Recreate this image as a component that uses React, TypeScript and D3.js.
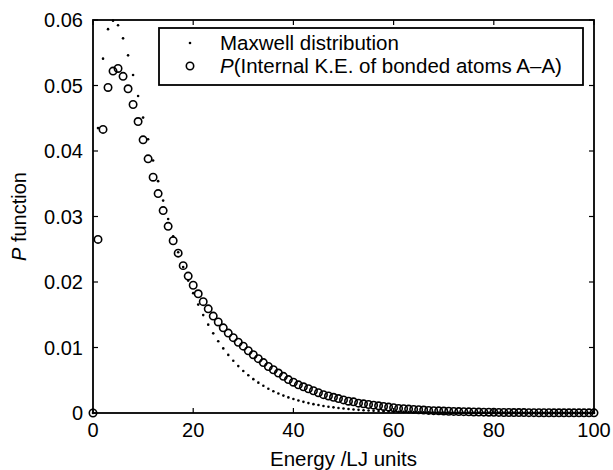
import React from "react";
import * as d3 from "d3";

const energies = [
  0, 1, 2, 3, 4, 5, 6, 7, 8, 9, 10, 11, 12, 13, 14, 15, 16, 17, 18, 19, 20,
  21, 22, 23, 24, 25, 26, 27, 28, 29, 30, 31, 32, 33, 34, 35, 36, 37, 38, 39, 40,
  41, 42, 43, 44, 45, 46, 47, 48, 49, 50, 51, 52, 53, 54, 55, 56, 57, 58, 59, 60,
  61, 62, 63, 64, 65, 66, 67, 68, 69, 70, 71, 72, 73, 74, 75, 76, 77, 78, 79, 80,
  81, 82, 83, 84, 85, 86, 87, 88, 89, 90, 91, 92, 93, 94, 95, 96, 97, 98, 99, 100,
];

const maxwell = [
  0, 0.0435, 0.0541, 0.0586, 0.0599, 0.0592, 0.0572, 0.0546, 0.0516, 0.0484,
  0.0451, 0.0418, 0.03854, 0.0354, 0.03243, 0.02962, 0.02699, 0.02455, 0.0223, 0.02021,
  0.0183, 0.01655, 0.01495, 0.01349, 0.01216, 0.01096, 0.00986, 0.00887, 0.00797, 0.00716,
  0.00642, 0.00576, 0.00517, 0.00463, 0.00415, 0.00371, 0.00332, 0.00297, 0.00266, 0.00238,
  0.00213, 0.0019, 0.0017, 0.00151, 0.00135, 0.00121, 0.00108, 0.00096, 0.00086, 0.00076,
  0.00068, 0.00061, 0.00054, 0.00048, 0.00043, 0.00038, 0.00034, 0.0003, 0.00027, 0.00024,
  0.00021, 0.00019, 0.00017, 0.00015, 0.00013, 0.00012, 0.0001, 0.00009, 0.00008, 0.00007,
  0.00006, 0.000055, 0.000049, 0.000043, 0.000038, 0.000034, 0.00003, 0.000027, 0.000024, 0.000021,
  0.000019, 0.000017, 0.000015, 0.000013, 0.000012, 0.00001, 0.000009, 0.000008, 0.000007, 0.000006,
  0.000005, 0.000005, 0.000004, 0.000004, 0.000003, 0.000003, 0.000003, 0.000002, 0.000002, 0.000002,
  0.000002,
];

const internalKE = [
  0, 0.0265, 0.0433, 0.0497, 0.0522, 0.0526, 0.0514, 0.0495, 0.0471, 0.0445,
  0.0417, 0.0388, 0.036, 0.0335, 0.0309, 0.0285, 0.0263, 0.0244, 0.0225, 0.0209,
  0.0195, 0.0182, 0.017, 0.0159, 0.0148, 0.0139, 0.013, 0.0122, 0.0115, 0.0108,
  0.0102, 0.0095, 0.0089, 0.0083, 0.0077, 0.0071, 0.0066, 0.0061, 0.0056, 0.0051,
  0.0047, 0.0043, 0.004, 0.0037, 0.0034, 0.0031, 0.0028, 0.0026, 0.0024, 0.0022,
  0.002, 0.0018, 0.0017, 0.0015, 0.0014, 0.0013, 0.0012, 0.0011, 0.001, 0.0009,
  0.0008, 0.0007, 0.00065, 0.0006, 0.00055, 0.0005, 0.00045, 0.0004, 0.00036, 0.00033,
  0.0003, 0.00027, 0.00024, 0.00022, 0.0002, 0.00018, 0.00016, 0.00014, 0.00013, 0.00012,
  0.0001, 0.00009, 0.00008, 0.00008, 0.00007, 0.00006, 0.00006, 0.00005, 0.00005, 0.00004,
  0.00004, 0.00004, 0.00003, 0.00003, 0.00003, 0.00003, 0.00002, 0.00002, 0.00002, 0.00002,
  0.00002,
];

const xTicks = [0, 20, 40, 60, 80, 100];
const yTicks = [0, 0.01, 0.02, 0.03, 0.04, 0.05, 0.06];
const yTickLabels = ["0", "0.01", "0.02", "0.03", "0.04", "0.05", "0.06"];
const legendLabels = ["Maxwell distribution", "(Internal K.E. of bonded atoms A\u2013A)"];

const W = 613;
const H = 470;
const left = 93;
const right = 594;
const top = 20;
const bottom = 413;
const FONT = "'Liberation Sans', Arial, Helvetica, sans-serif";

export default function App() {
  const x = d3.scaleLinear().domain([0, 100]).range([left, right]);
  const y = d3.scaleLinear().domain([0, 0.06]).range([bottom, top]);
  const tickLen = 5;
  const axisW = 1.8;
  const cr = 3.7;
  const cw = 1.6;
  const dr = 1.3;

  return (
    <svg
      width={W}
      height={H}
      style={{ position: "absolute", left: 0, top: 0, background: "#fff" }}
      fontFamily={FONT}
    >
      <rect x={0} y={0} width={W} height={H} fill="#fff" />
      <g>
        {energies.map((e, i) => (
          <circle key={"m" + i} cx={x(e)} cy={y(maxwell[i])} r={dr} fill="#000" />
        ))}
      </g>
      <g>
        {energies.map((e, i) => (
          <circle
            key={"c" + i}
            cx={x(e)}
            cy={y(internalKE[i])}
            r={cr}
            fill="none"
            stroke="#000"
            strokeWidth={cw}
          />
        ))}
      </g>
      <rect
        x={left}
        y={top}
        width={right - left}
        height={bottom - top}
        fill="none"
        stroke="#000"
        strokeWidth={axisW}
      />
      {xTicks.map((t) => (
        <g key={"xt" + t}>
          <line x1={x(t)} x2={x(t)} y1={bottom} y2={bottom - tickLen} stroke="#000" strokeWidth={1.2} />
          <line x1={x(t)} x2={x(t)} y1={top} y2={top + tickLen} stroke="#000" strokeWidth={1.2} />
          <text x={x(t)} y={437} textAnchor="middle" fontSize={20}>
            {t}
          </text>
        </g>
      ))}
      {yTicks.map((t, i) => (
        <g key={"yt" + i}>
          <line x1={left} x2={left + tickLen} y1={y(t)} y2={y(t)} stroke="#000" strokeWidth={1.2} />
          <line x1={right} x2={right - tickLen} y1={y(t)} y2={y(t)} stroke="#000" strokeWidth={1.2} />
          <text x={83} y={y(t)} dy="0.35em" textAnchor="end" fontSize={20}>
            {yTickLabels[i]}
          </text>
        </g>
      ))}
      <text x={(left + right) / 2} y={466} textAnchor="middle" fontSize={20.5}>
        Energy /LJ units
      </text>
      <text
        transform={`translate(26, ${(top + bottom) / 2}) rotate(-90)`}
        textAnchor="middle"
        fontSize={20}
      >
        <tspan fontStyle="italic">P</tspan> function
      </text>
      <rect x={159} y={28} width={424} height={57} fill="#fff" stroke="#000" strokeWidth={1.8} />
      <circle cx={190} cy={43} r={dr} fill="#000" />
      <circle cx={190} cy={66} r={cr} fill="none" stroke="#000" strokeWidth={cw} />
      <text x={220} y={50} fontSize={20.5}>
        {legendLabels[0]}
      </text>
      <text x={220} y={73} fontSize={20.5}>
        <tspan fontStyle="italic">P</tspan>
        {legendLabels[1]}
      </text>
    </svg>
  );
}
